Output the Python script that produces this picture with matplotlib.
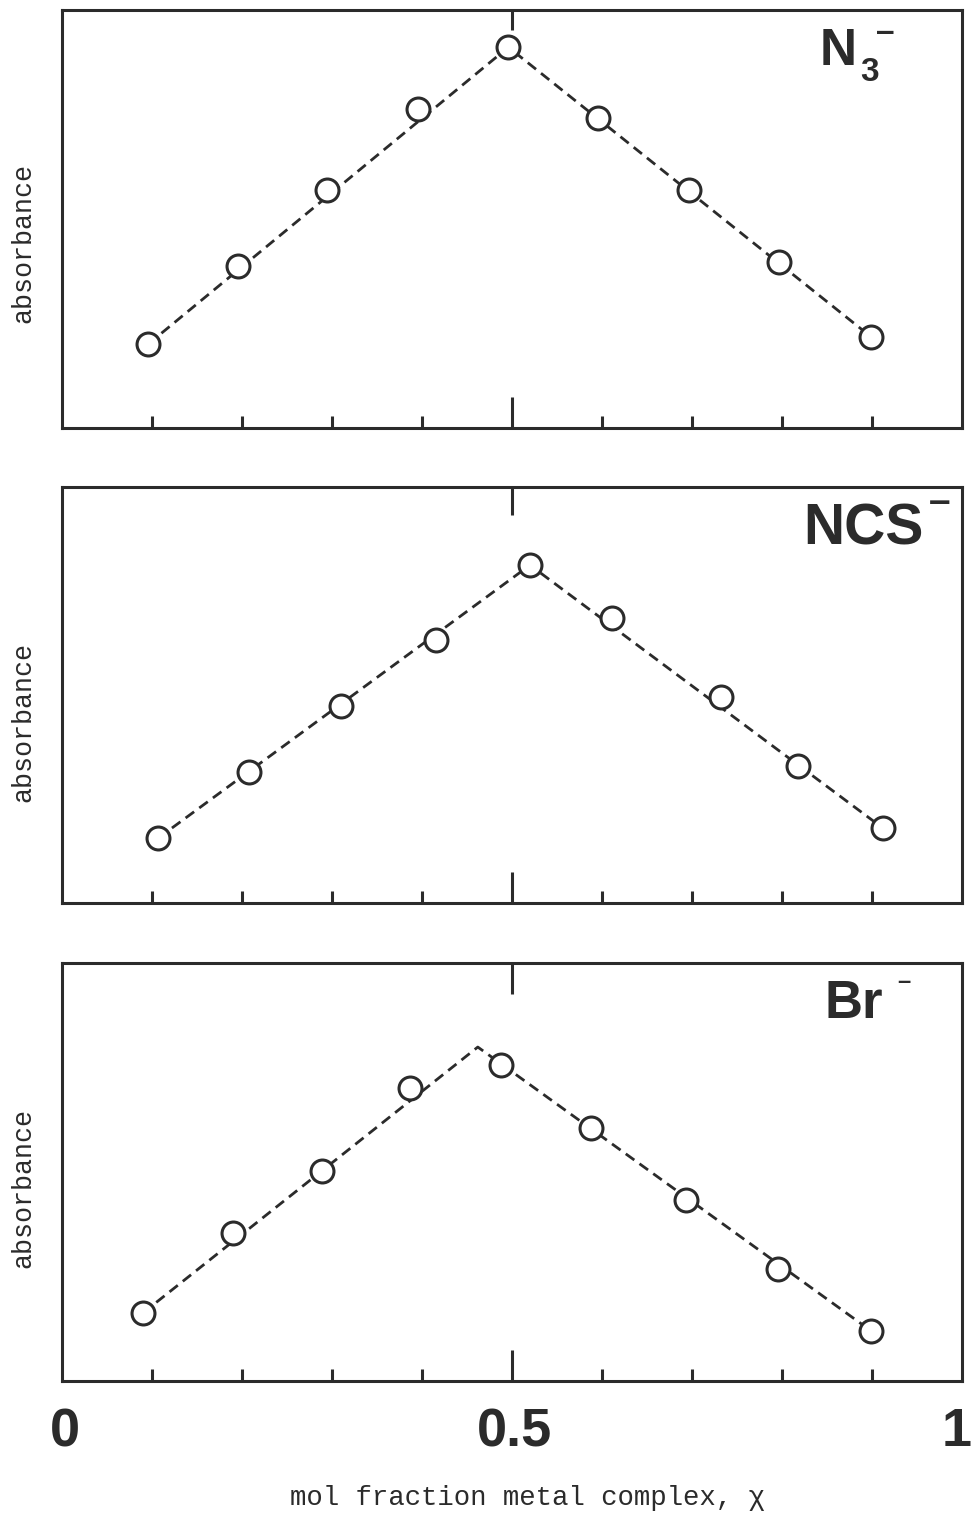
import matplotlib
matplotlib.use("Agg")
import matplotlib.pyplot as plt
import matplotlib.transforms as mtransforms

ink = '#2b2b2b'

# Job plot data: mol fraction vs absorbance (arbitrary units)
x_n3 = [0.096, 0.196, 0.294, 0.396, 0.496, 0.596, 0.697, 0.797, 0.899]
y_n3 = [0.201, 0.388, 0.569, 0.763, 0.911, 0.742, 0.569, 0.397, 0.218]

x_ncs = [0.107, 0.208, 0.310, 0.416, 0.520, 0.611, 0.732, 0.818, 0.912]
y_ncs = [0.156, 0.315, 0.474, 0.632, 0.812, 0.685, 0.495, 0.329, 0.180]

x_br = [0.090, 0.190, 0.289, 0.387, 0.488, 0.588, 0.693, 0.796, 0.899]
y_br = [0.163, 0.354, 0.502, 0.701, 0.756, 0.605, 0.433, 0.268, 0.120]

# two straight-line fits meeting at the maximum
fit_x_n3 = [0.096, 0.496, 0.899]
fit_y_n3 = [0.201, 0.911, 0.218]
fit_x_ncs = [0.107, 0.520, 0.912]
fit_y_ncs = [0.156, 0.812, 0.180]
fit_x_br = [0.090, 0.462, 0.899]
fit_y_br = [0.163, 0.799, 0.120]

panels = [
    (x_n3, y_n3, fit_x_n3, fit_y_n3),
    (x_ncs, y_ncs, fit_x_ncs, fit_y_ncs),
    (x_br, y_br, fit_x_br, fit_y_br),
]

# anion labels: (main text, subscript, charge)
anions = [('N', '3', '\u2013'), ('NCS', '', '\u2013'), ('Br', '', '\u2013')]

minor_ticks = [0.1, 0.2, 0.3, 0.4, 0.6, 0.7, 0.8, 0.9]
bottom_labels = ['0', '0.5', '1']
bottom_label_x = [0.003, 0.503, 1.011]
bottom_label_ha = ['center', 'center', 'right']

fig = plt.figure(figsize=(9.73, 15.13), dpi=100)

# axes rectangles in figure fraction
boxes = [
    (0.0637, 0.7171, 0.925, 0.2763),
    (0.0637, 0.4032, 0.925, 0.2750),
    (0.0637, 0.0872, 0.925, 0.2763),
]
top_tick_len = [14.5, 20, 22]
# label placement in axes fraction: main text, subscript, charge
main_pos = [(0.842, 0.868, 37), (0.824, 0.861, 41), (0.847, 0.868, 38)]
sub_pos = [(0.887, 0.830, 24), None, None]
chg_pos = [(0.915, 0.927, 24), (0.9756, 0.9375, 28), (0.935, 0.940, 17)]
absorb_y = [0.443, 0.435, 0.462]

axes = []
for i, (xs, ys, fx, fy) in enumerate(panels):
    ax = fig.add_axes(boxes[i])
    axes.append(ax)
    ax.plot(fx, fy, color=ink, lw=2.0, dashes=(3.8, 2.3), zorder=2)
    ax.plot(xs, ys, 'o', ms=16.5, mfc='white', mec=ink, mew=2.2, zorder=3)
    ax.set_xlim(0, 1)
    ax.set_ylim(0, 1)

    for s in ax.spines.values():
        s.set_linewidth(2.2)
        s.set_color(ink)

    ax.set_yticks([])
    ax.set_xticks(minor_ticks)
    ax.set_xticks([0.5], minor=True)
    ax.tick_params(axis='x', which='major', direction='in', length=9, width=2.2,
                   color=ink, labelbottom=False, top=False)
    ax.tick_params(axis='x', which='minor', direction='in', length=22, width=2.2,
                   color=ink, labelbottom=False, top=False)

    # single tick at 0.5 along the top edge
    top = ax.secondary_xaxis('top')
    top.set_xticks([0.5])
    top.tick_params(direction='in', length=top_tick_len[i], width=2.2, color=ink,
                    labeltop=False)
    top.spines['top'].set_visible(False)

    main, sub, chg = anions[i]
    mx, my, ms = main_pos[i]
    ax.text(mx, my, main, transform=ax.transAxes, ha='left', va='baseline',
            fontsize=ms, fontweight='bold', family='Liberation Sans', color=ink)
    if sub:
        sx, sy, ss = sub_pos[i]
        ax.text(sx, sy, sub, transform=ax.transAxes, ha='left', va='baseline',
                fontsize=ss, fontweight='bold', family='Liberation Sans', color=ink)
    cx, cy, cs = chg_pos[i]
    ax.text(cx, cy, chg, transform=ax.transAxes, ha='center', va='baseline',
            fontsize=cs, fontweight='bold', family='Liberation Sans', color=ink)

    ax.text(-0.043, absorb_y[i], 'absorbance', transform=ax.transAxes,
            rotation=90, ha='center', va='center', fontsize=19.3,
            family='Liberation Mono', color=ink)

ax = axes[-1]
trans = mtransforms.blended_transform_factory(ax.transData, ax.transAxes)
for xv, lab, ha in zip(bottom_label_x, bottom_labels, bottom_label_ha):
    ax.text(xv, -0.122, lab, transform=trans, ha=ha, va='center',
            fontsize=39, fontweight='bold', family='Liberation Sans', color=ink,
            clip_on=False)

fig.text(0.542, 0.0099, u'mol fraction metal complex, \u03c7', ha='center', va='center',
         fontsize=19.7, family='Liberation Mono', color=ink)

fig.savefig('out.png', dpi=100, facecolor='white')
